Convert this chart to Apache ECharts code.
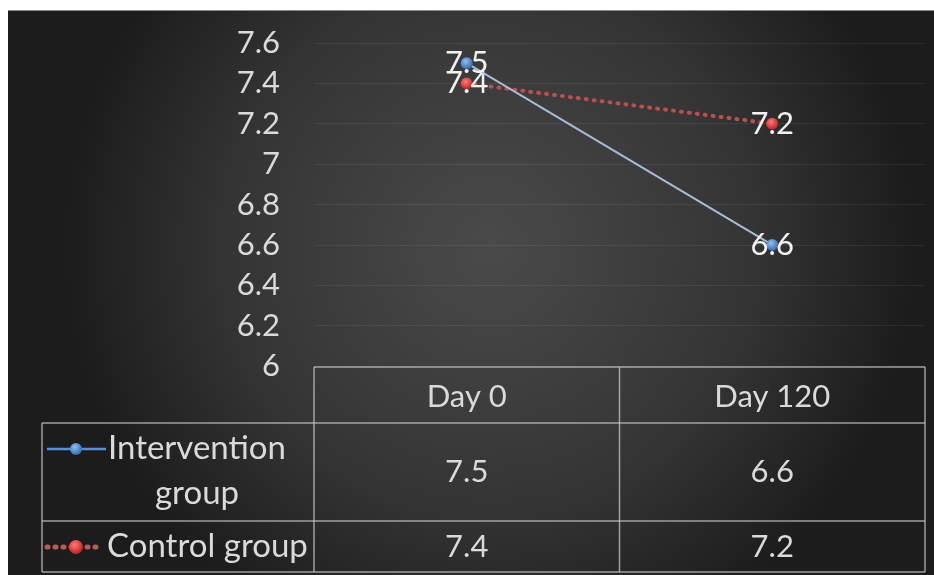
<!DOCTYPE html>
<html>
<head>
<meta charset="utf-8">
<script src="https://cdn.jsdelivr.net/npm/echarts@6/dist/echarts.min.js"></script>
<style>
  html, body { margin: 0; padding: 0; background: #ffffff; }
  #chart { width: 934px; height: 575px; }
</style>
</head>
<body>
<div id="chart"></div>
<script>
// HbA1c-style measurements for two groups at two time points
const categories = ['Day 0', 'Day 120'];
const interventionName = 'Intervention\ngroup';
const controlName = 'Control group';
const interventionValues = [7.5, 6.6];
const controlValues = [7.4, 7.2];
const yTicks = { min: 6, max: 7.6, step: 0.2 };

const W = 934, H = 575;
const FONT = 'Lato, "Noto Sans", sans-serif';
const TEXT = '#dadada';
const RULE = 'rgba(200,200,200,0.75)';

// plot frame (pixels)
const G = { left: 314, right: 925, top: 43, bottom: 366 };
// data-table rows below the plot
const T = { left: 42, header: 367, row1: 423, row2: 521, bottom: 572 };

const chart = echarts.init(document.getElementById('chart'), null, { renderer: 'canvas' });

const blueMarker = {
  type: 'radial', x: 0.4, y: 0.35, r: 0.7,
  colorStops: [{ offset: 0, color: '#8fc0f0' }, { offset: 1, color: '#2f63a8' }]
};
const redMarker = {
  type: 'radial', x: 0.4, y: 0.35, r: 0.7,
  colorStops: [{ offset: 0, color: '#ff7a7a' }, { offset: 1, color: '#c01818' }]
};

function fmt(v) { return String(v); }

function tableGraphics() {
  const g = [];
  const line = (x1, y1, x2, y2) => g.push({
    type: 'line', silent: true, z: 10,
    shape: { x1, y1, x2, y2 },
    style: { stroke: RULE, lineWidth: 1.5 }
  });
  const mid = (G.left + G.right) / 2;
  const colCenters = [(G.left + mid) / 2, (mid + G.right) / 2];

  // horizontal rules
  line(G.left, T.header, G.right, T.header);
  line(T.left, T.row1, G.right, T.row1);
  line(T.left, T.row2, G.right, T.row2);
  line(T.left, T.bottom, G.right, T.bottom);
  // vertical rules
  line(T.left, T.row1, T.left, T.bottom);
  line(G.left, T.header, G.left, T.bottom);
  line(mid, T.header, mid, T.bottom);
  line(G.right, T.header, G.right, T.bottom);

  const cell = (x, y, text, align, size) => g.push({
    type: 'text', silent: true, z: 11,
    style: {
      x, y, text, fill: TEXT, font: (size || 31) + 'px ' + FONT,
      textAlign: align || 'center', textVerticalAlign: 'middle', lineHeight: 45
    }
  });
  const r1 = (T.row1 + T.row2) / 2, r2 = (T.row2 + T.bottom) / 2;
  interventionValues.forEach((v, i) => cell(colCenters[i], r1, fmt(v)));
  controlValues.forEach((v, i) => cell(colCenters[i], r2, fmt(v)));

  // row headers with series keys
  cell(197, r1 - 1, interventionName, 'center', 33);
  cell(107, r2, controlName, 'left', 33);

  // key: intervention (solid line + blue dot)
  g.push({ type: 'line', silent: true, z: 11, shape: { x1: 47, y1: 449, x2: 106, y2: 449 },
    style: { stroke: '#5b8fd0', lineWidth: 2.5 } });
  g.push({ type: 'circle', silent: true, z: 12, shape: { cx: 76, cy: 449, r: 6 },
    style: { fill: blueMarker } });
  // key: control (dotted line + red dot)
  g.push({ type: 'line', silent: true, z: 11, shape: { x1: 47, y1: 547, x2: 100, y2: 547 },
    style: { stroke: '#b85a5a', lineWidth: 5, lineDash: [1, 7], lineCap: 'round' } });
  g.push({ type: 'circle', silent: true, z: 12, shape: { cx: 76, cy: 547, r: 7 },
    style: { fill: redMarker } });
  return g;
}

const option = {
  animation: false,
  backgroundColor: 'transparent',
  textStyle: { fontFamily: FONT },
  graphic: [
    {
      type: 'rect', silent: true, z: -10,
      shape: { x: 8, y: 10, width: W - 8, height: H - 10 },
      style: {
        fill: {
          type: 'radial', x: 0.52, y: 0.42, r: 0.75,
          colorStops: [
            { offset: 0, color: '#4a4a4a' },
            { offset: 0.6, color: '#353535' },
            { offset: 1, color: '#1c1c1c' }
          ]
        }
      }
    },
    {
      type: 'line', silent: true, z: -9,
      shape: { x1: 8, y1: 10.5, x2: W, y2: 10.5 },
      style: { stroke: '#8a8a8a', lineWidth: 1 }
    }
  ].concat(tableGraphics()),
  grid: {
    left: G.left, right: W - G.right, top: G.top, bottom: H - G.bottom,
    containLabel: false
  },
  xAxis: {
    type: 'category',
    data: categories,
    boundaryGap: true,
    axisLine: { show: false },
    axisTick: { show: false },
    axisLabel: { color: TEXT, fontSize: 31, fontFamily: FONT, margin: 13, lineHeight: 36 }
  },
  yAxis: {
    type: 'value',
    min: yTicks.min, max: yTicks.max, interval: yTicks.step,
    axisLine: { show: false },
    axisTick: { show: false },
    axisLabel: {
      color: TEXT, fontSize: 31, fontFamily: FONT, margin: 34,
      formatter: v => String(Math.round(v * 10) / 10)
    },
    splitLine: { lineStyle: { color: 'rgba(255,255,255,0.07)', width: 1 } }
  },
  series: [
    {
      name: controlName,
      type: 'line',
      data: controlValues,
      symbol: 'circle',
      symbolSize: 12,
      itemStyle: { color: redMarker },
      lineStyle: { color: '#b85050', width: 4, type: [1, 7], cap: 'round' },
      label: {
        show: true, position: 'inside', color: '#f2f2f2',
        fontSize: 31, fontFamily: FONT
      },
      z: 3
    },
    {
      name: interventionName,
      type: 'line',
      data: interventionValues,
      symbol: 'circle',
      symbolSize: 12,
      itemStyle: { color: blueMarker },
      lineStyle: { color: '#a9bcd6', width: 2 },
      label: {
        show: true, position: 'inside', color: '#f2f2f2',
        fontSize: 31, fontFamily: FONT
      },
      z: 4
    }
  ]
};

chart.setOption(option);
</script>
</body>
</html>
